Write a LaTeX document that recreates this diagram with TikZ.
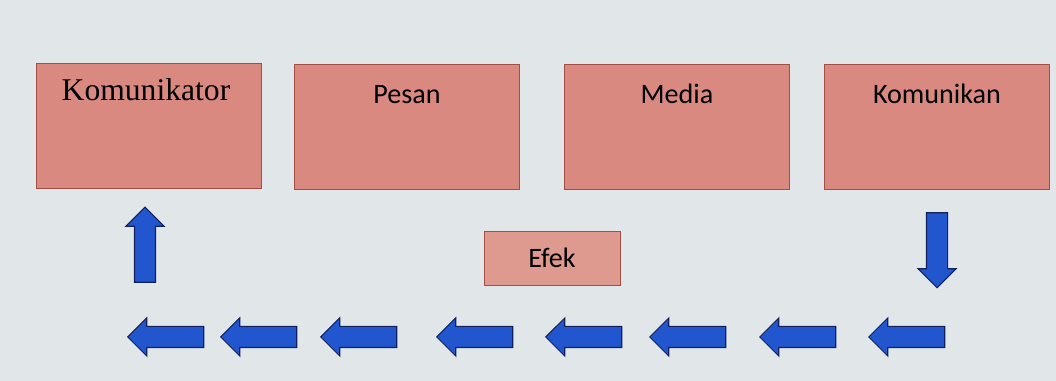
\documentclass[tikz,border=0pt]{standalone}
\usepackage{fontspec}
\setmainfont{Carlito}
\newfontfamily\komfont{Liberation Serif}
\usepackage{tikz}
\usetikzlibrary{shapes.arrows, positioning}
\definecolor{screenbg}{RGB}{225,230,232}
\definecolor{boxfill}{RGB}{217,137,127}
\definecolor{boxline}{RGB}{165,78,68}
\definecolor{efekfill}{RGB}{223,154,144}
\definecolor{arrowfill}{RGB}{33,86,206}
\definecolor{arrowline}{RGB}{18,32,92}
\tikzstyle{element} = [draw=boxline, fill=boxfill, rectangle, minimum width=4.5cm, minimum height=2.5cm]
\tikzstyle{elementtext} = [anchor=center, yshift=-0.6cm, font=\fontsize{16}{18}\selectfont, text=black]
\tikzstyle{efekbox} = [draw=boxline, fill=efekfill, rectangle, minimum width=2.72cm, minimum height=1.08cm, font=\fontsize{16}{18}\selectfont, text=black]
\tikzstyle{flowarrow} = [draw=arrowline, fill=arrowfill, single arrow, single arrow head extend=0.17cm, inner sep=0.2cm, minimum height=1.52cm, line width=0.6pt]

\begin{document}
\begin{tikzpicture}[x=0.02cm, y=-0.02cm]
		\fill[screenbg] (0,0) rectangle (1056,381);
		\node (komunikator) [element, label={[elementtext, yshift=0.06cm, xshift=-0.06cm, font=\komfont\fontsize{18}{20}\selectfont]north:Komunikator}] at (149,126) {};
		\node (pesan) [element, label={[elementtext]north:Pesan}] at (407,127) {};
		\node (media) [element, label={[elementtext]north:Media}] at (677,127) {};
		\node (komunikan) [element, label={[elementtext]north:Komunikan}] at (937,127) {};
		\node (efek) [efekbox] at (552,258) {Efek};
		\node (down) [flowarrow, rotate=-90, minimum height=1.5cm] at (937,245) {};
		\foreach \x/\name in {912/h8, 803/h7, 693/h6, 589/h5, 480/h4, 364/h3, 264/h2, 171/h1}
			\node (\name) [flowarrow, rotate=180] at (\x,337) {};
		\node (up) [flowarrow, rotate=90, minimum height=1.5cm] at (145,250) {};
	\end{tikzpicture}
\end{document}
